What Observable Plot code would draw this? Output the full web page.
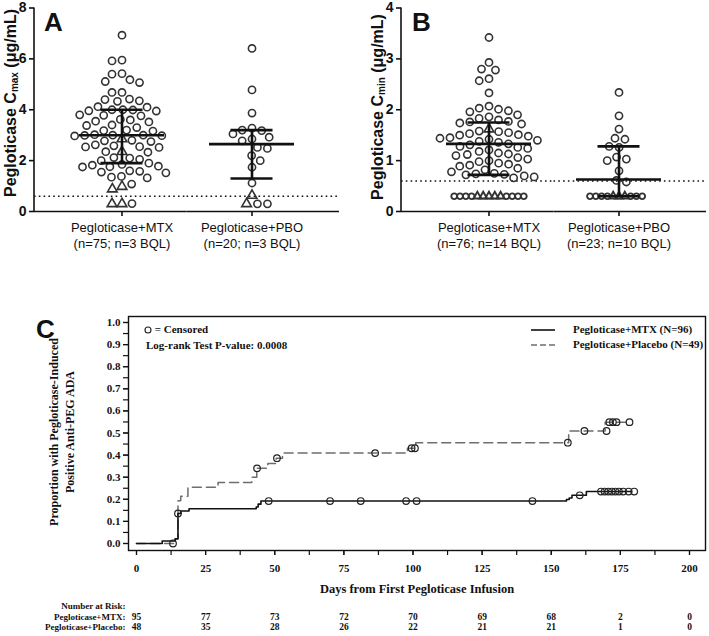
<!DOCTYPE html>
<html><head><meta charset="utf-8">
<script src="https://cdn.jsdelivr.net/npm/d3@7"></script>
<script src="https://cdn.jsdelivr.net/npm/@observablehq/plot@0.6"></script>
<style>
body{margin:0;background:#fff;}
#root{position:relative;width:709px;height:636px;overflow:hidden;background:#fff;}
#root > svg{position:absolute;overflow:visible;}
.abs{position:absolute;white-space:nowrap;color:#111;}
.panel{font-family:"Liberation Sans",Arial,sans-serif;font-weight:bold;font-size:26px;line-height:1;}
.ylab{font-family:"Liberation Sans",Arial,sans-serif;font-weight:bold;font-size:16px;transform:translate(-50%,-50%) rotate(-90deg);}
.ylab sub{font-size:10px;vertical-align:-2px;}
.serif{font-family:"Liberation Serif","Times New Roman",serif;}
.cylab{font-weight:bold;font-size:12px;transform:translate(-50%,-50%) rotate(-90deg);text-align:center;line-height:16px;}
.leg{font-size:11px;font-weight:bold;line-height:1;}
.leg svg{vertical-align:middle;}
</style></head><body><div id="root"></div>
<script>
// ---------- Panels A and B data ----------
const groups = ["Pegloticase+MTX", "Pegloticase+PBO"];
const cmaxLabels = ["Pegloticase+MTX\n(n=75; n=3 BQL)", "Pegloticase+PBO\n(n=20; n=3 BQL)"];
const cminLabels = ["Pegloticase+MTX\n(n=76; n=14 BQL)", "Pegloticase+PBO\n(n=23; n=10 BQL)"];
const cmaxTicks = [0, 2, 4, 6, 8];
const cminTicks = [0, 1, 2, 3, 4];
const lloq = 0.6;
const bqlValue = 0.30;

const cmaxMtxCircles = [6.93, 5.95, 5.92, 5.42, 5.40, 5.18, 5.11, 5.07, 4.68, 4.68, 4.42, 4.40, 4.35, 4.33, 4.12, 4.10,
  4.00, 4.00, 3.99, 3.96, 3.95, 3.80, 3.78, 3.76, 3.62, 3.60, 3.55, 3.52, 3.40, 3.38, 3.30, 3.20, 3.18, 3.16,
  3.02, 3.00, 3.00, 2.99, 2.98, 2.97, 2.80, 2.78, 2.75, 2.62, 2.58, 2.55, 2.54, 2.52, 2.35, 2.33, 2.12, 2.10,
  2.05, 2.00, 1.90, 1.85, 1.82, 1.78, 1.76, 1.75, 1.60, 1.58, 1.55, 1.52, 1.38, 1.35, 1.32, 1.08, 0.31];
const cmaxMtxTriangles = [2.85, 2.35, 0.98, 0.88, 0.30, 0.30];
const cmaxPboCircles = [6.41, 4.78, 3.87, 3.28, 3.20, 3.18, 3.05, 2.92, 2.85, 2.78, 2.52, 2.48, 2.20, 2.00, 1.74, 1.12, 0.30, 0.30];
const cmaxPboTriangles = [0.63, 0.30];
const cmaxMean = [3.00, 2.65];
const cmaxSdLow = [1.90, 1.30];
const cmaxSdHigh = [4.00, 3.20];

const cminMtxCircles = [3.42, 2.93, 2.80, 2.78, 2.61, 2.57, 2.33, 2.07, 2.03, 2.01, 1.98, 1.96, 1.90, 1.86, 1.83,
  1.80, 1.77, 1.76, 1.74, 1.72, 1.58, 1.57, 1.55, 1.53, 1.51, 1.50, 1.48, 1.45, 1.44, 1.42, 1.40, 1.38, 1.36,
  1.33, 1.31, 1.28, 1.26, 1.24, 1.21, 1.18, 1.15, 1.13, 1.12, 1.10, 1.06, 1.03, 1.00, 0.98, 0.95, 0.93, 0.91,
  0.89, 0.85, 0.82, 0.78, 0.75, 0.74, 0.73, 0.72, 0.70, 0.68, 0.66,
  0.30, 0.30, 0.30, 0.30, 0.30, 0.30, 0.30, 0.30];
const cminMtxTriangles = [1.62, 0.30, 0.30, 0.30, 0.30, 0.30];
const cminPboCircles = [2.34, 1.88, 1.62, 1.44, 1.42, 1.28, 1.26, 1.07, 1.03, 1.00, 0.80, 0.61, 0.58,
  0.30, 0.30, 0.30, 0.30, 0.30, 0.30, 0.30];
const cminPboTriangles = [0.30, 0.30, 0.30];
const cminMean = [1.33, 0.63];
const cminSdLow = [0.72, 0.30];
const cminSdHigh = [1.75, 1.28];

// ---------- Panel C data ----------
const kmMtxDays   = [0, 9.3, 14, 15, 16, 19, 43.3, 44, 45, 155.5, 156.5, 157.5, 162.7, 179];
const kmMtxValues = [0, 0.011, 0.021, 0.136, 0.147, 0.157, 0.165, 0.178, 0.192, 0.199, 0.206, 0.218, 0.235, 0.235];
const kmPboDays   = [0, 14, 15, 16, 18.6, 29.5, 41.7, 43.5, 47.5, 50.5, 52.8, 98, 101, 156.3, 169.5, 178.3];
const kmPboValues = [0, 0.021, 0.194, 0.214, 0.254, 0.276, 0.300, 0.340, 0.362, 0.386, 0.409, 0.431, 0.456, 0.509, 0.549, 0.549];
const censMtxDays   = [13.2, 15, 47.8, 70.0, 81.1, 97.5, 101.3, 143.2, 160.3, 168, 169.3, 170.6, 171.9, 173.2, 174.5, 176, 178, 180];
const censMtxValues = [0, 0.136, 0.192, 0.192, 0.192, 0.192, 0.192, 0.192, 0.218, 0.235, 0.235, 0.235, 0.235, 0.235, 0.235, 0.235, 0.235, 0.235];
const censPboDays   = [43.6, 50.8, 86.3, 99.5, 100.7, 156, 162, 170, 171, 172.3, 173.6, 178.3];
const censPboValues = [0.340, 0.386, 0.409, 0.431, 0.431, 0.456, 0.509, 0.509, 0.549, 0.549, 0.549, 0.549];
const riskDays = [0, 25, 50, 75, 100, 125, 150, 175, 200];
const riskMtx = [95, 77, 73, 72, 70, 69, 68, 2, 0];
const riskPbo = [48, 35, 28, 26, 22, 21, 21, 1, 0];
const kmXTicks = [0, 25, 50, 75, 100, 125, 150, 175, 200];
const kmXMinorTicks = [0, 12.5, 25, 37.5, 50, 62.5, 75, 87.5, 100, 112.5, 125, 137.5, 150, 162.5, 175, 187.5, 200];
const kmYTicks = [0, 0.1, 0.2, 0.3, 0.4, 0.5, 0.6, 0.7, 0.8, 0.9, 1.0];
const kmYMinorTicks = [0, 0.05, 0.1, 0.15, 0.2, 0.25, 0.3, 0.35, 0.4, 0.45, 0.5, 0.55, 0.6, 0.65, 0.7, 0.75, 0.8, 0.85, 0.9, 0.95, 1.0];

// ---------- helpers ----------
// triangles first so that the swarm layout keeps them near the group centre, as in the original
function pts(group, circles, triangles) {
  return [...triangles.map(v => ({group, value: v, shape: "triangle"})),
          ...circles.map(v => ({group, value: v, shape: "circle"})).sort((a, b) => d3.descending(a.value, b.value))];
}

const FX_PAD = 0.344;     // band padding of the facet scale (inner and outer)
const OUTER = 45;         // outer padding in px of the facet bands
const HALF_BAND = 43;     // half of the facet band width in px

function dotPanel({points, mean, low, high, labels, ticks, yMax, tightBql}) {
  const stats = groups.map((g, i) => ({group: g, mean: mean[i], lo: low[i], hi: high[i]}));
  const first = [{group: groups[0], base: 0, ref: lloq}];
  const second = [{group: groups[1], base: 0, ref: lloq}];
  const main = tightBql ? points.filter(d => d.value > bqlValue) : points;
  const bql = tightBql ? points.filter(d => d.value <= bqlValue) : [];
  const dotOpts = {fx: "group", y: "value", r: 3.6, symbol: "shape", stroke: "#333", strokeWidth: 1.6, fill: "none"};
  const bqlOpts = {...dotOpts, r: 2.9, strokeWidth: 1.9};
  return Plot.plot({
    width: 350, height: 255,
    marginLeft: 33, marginRight: 10, marginTop: 7.5, marginBottom: 44,
    style: {fontFamily: "'Liberation Sans', Arial, sans-serif", fontSize: "13px", color: "#111", background: "transparent"},
    fx: {domain: groups, paddingInner: FX_PAD, paddingOuter: FX_PAD},
    y: {domain: [0, yMax]},
    marks: [
      Plot.ruleX(first, {fx: "group", x: null, dx: -(OUTER + HALF_BAND), strokeWidth: 1.6}),
      Plot.ruleY(first, {fx: "group", y: "base", insetLeft: -OUTER, insetRight: -OUTER / 2, strokeWidth: 1.6}),
      Plot.ruleY(second, {fx: "group", y: "base", insetLeft: -OUTER / 2, insetRight: -OUTER, strokeWidth: 1.6}),
      Plot.ruleY(first, {fx: "group", y: "ref", insetLeft: -OUTER, insetRight: -OUTER / 2, strokeWidth: 1.6, strokeDasharray: "1.6,3.2"}),
      Plot.ruleY(second, {fx: "group", y: "ref", insetLeft: -OUTER / 2, insetRight: -OUTER, strokeWidth: 1.6, strokeDasharray: "1.6,3.2"}),
      Plot.axisY({ticks, tickFormat: d => d, dx: -OUTER, tickSize: 5, tickPadding: 3, fontSize: 14, fontWeight: "bold", strokeWidth: 1.6, label: null}),
      Plot.axisFx({anchor: "bottom", tickSize: 5, strokeWidth: 1.6, tickPadding: 3, label: null, lineHeight: 1.3, fontSize: 13,
        tickFormat: d => labels[groups.indexOf(d)]}),
      Plot.dot(main, Plot.dodgeX({anchor: "middle", padding: 2.8}, dotOpts)),
      Plot.dot(bql, Plot.dodgeX({anchor: "middle", padding: 0}, bqlOpts)),
      Plot.tickY(stats, {fx: "group", y: "mean", strokeWidth: 2.6, stroke: "#111"}),
      Plot.tickY(stats, {fx: "group", y: "hi", insetLeft: 21.5, insetRight: 21.5, strokeWidth: 2.6, stroke: "#111"}),
      Plot.tickY(stats, {fx: "group", y: "lo", insetLeft: 21.5, insetRight: 21.5, strokeWidth: 2.6, stroke: "#111"}),
      Plot.ruleX(stats, {fx: "group", x: null, y1: "lo", y2: "hi", strokeWidth: 2.6, stroke: "#111"})
    ]
  });
}

const root = document.getElementById("root");
function place(el, left, top) { root.appendChild(el); el.style.left = left + "px"; el.style.top = top + "px"; return el; }
function html(cls, content, left, top) { const d = document.createElement("div"); d.className = "abs " + cls; d.innerHTML = content; return place(d, left, top); }

// Panel A
place(dotPanel({
  points: [...pts(groups[0], cmaxMtxCircles, cmaxMtxTriangles), ...pts(groups[1], cmaxPboCircles, cmaxPboTriangles)],
  mean: cmaxMean, low: cmaxSdLow, high: cmaxSdHigh, labels: cmaxLabels, ticks: cmaxTicks, yMax: 8, tightBql: false
}), 0, 0);
// Panel B
place(dotPanel({
  points: [...pts(groups[0], cminMtxCircles, cminMtxTriangles), ...pts(groups[1], cminPboCircles, cminPboTriangles)],
  mean: cminMean, low: cminSdLow, high: cminSdHigh, labels: cminLabels, ticks: cminTicks, yMax: 4, tightBql: true
}), 367, 0);

html("panel", "A", 44, 9);
html("panel", "B", 412, 9);
html("ylab", "Pegloticase C<sub>max</sub> (μg/mL)", 11, 103);
html("ylab", "Pegloticase C<sub>min</sub> (μg/mL)", 378, 107);

// Panel C
const kmMtx = kmMtxDays.map((d, i) => ({day: d, value: kmMtxValues[i]}));
const kmPbo = kmPboDays.map((d, i) => ({day: d, value: kmPboValues[i]}));
const censMtx = censMtxDays.map((d, i) => ({day: d, value: censMtxValues[i]}));
const censPbo = censPboDays.map((d, i) => ({day: d, value: censPboValues[i]}));
const riskRows = riskDays.map((d, i) => ({day: d, mtx: riskMtx[i], pbo: riskPbo[i]}));

const chartC = Plot.plot({
  width: 709, height: 341,
  marginLeft: 128, marginRight: 4, marginTop: 21, marginBottom: 86,
  style: {fontFamily: "'Liberation Serif', 'Times New Roman', serif", fontSize: "11px", fontWeight: "bold", color: "#111", background: "transparent"},
  x: {domain: [0, 200], insetLeft: 8, insetRight: 16},
  y: {domain: [0, 1], insetTop: 6, insetBottom: 7},
  marks: [
    Plot.frame({strokeWidth: 1.4}),
    Plot.axisY({ticks: kmYMinorTicks, tickFormat: () => "", tickSize: 5, strokeWidth: 1.2, label: null}),
    Plot.axisY({ticks: kmYTicks, tickFormat: d3.format(".1f"), tickSize: 5, tickPadding: 3, strokeWidth: 1.2, label: null}),
    Plot.axisX({ticks: kmXMinorTicks, tickFormat: () => "", tickSize: 5, strokeWidth: 1.2, label: null}),
    Plot.axisX({ticks: kmXTicks, tickFormat: d => d, tickSize: 5, tickPadding: 9, strokeWidth: 1.2, label: null}),
    Plot.line(kmPbo, {x: "day", y: "value", curve: "step-after", stroke: "#6e6e6e", strokeWidth: 1.5, strokeDasharray: "9,5"}),
    Plot.line(kmMtx, {x: "day", y: "value", curve: "step-after", stroke: "#111", strokeWidth: 1.6}),
    Plot.dot(censPbo, {x: "day", y: "value", r: 3.3, stroke: "#222", strokeWidth: 1.2}),
    Plot.dot(censMtx, {x: "day", y: "value", r: 3.3, stroke: "#222", strokeWidth: 1.2}),
    Plot.text(["Days from First Pegloticase Infusion"], {frameAnchor: "bottom", dy: 42, fontSize: 12.5}),
    Plot.text(["Number at Risk:"], {frameAnchor: "bottom-left", dx: -3, dy: 58, textAnchor: "end", fontSize: 9}),
    Plot.text(["Pegloticase+MTX:"], {frameAnchor: "bottom-left", dx: -3, dy: 69, textAnchor: "end", fontSize: 9}),
    Plot.text(["Pegloticase+Placebo:"], {frameAnchor: "bottom-left", dx: -3, dy: 79, textAnchor: "end", fontSize: 9}),
    Plot.text(riskRows, {x: "day", text: "mtx", frameAnchor: "bottom", dy: 69, fontSize: 9.5}),
    Plot.text(riskRows, {x: "day", text: "pbo", frameAnchor: "bottom", dy: 79, fontSize: 9.5})
  ]
});
place(chartC, 0, 295);

html("panel", "C", 36, 316);
html("serif cylab", "Proportion with Pegloticase-Induced<br>Positive Anti-PEG ADA", 62, 432);
html("serif leg", '<svg width="8" height="8"><circle cx="4" cy="4" r="3" fill="none" stroke="#222" stroke-width="1.1"/></svg> = Censored', 144, 324);
html("serif leg", "Log-rank Test P-value: 0.0008", 146, 340);
html("serif leg", '<svg width="24" height="6" style="margin-right:18px"><line x1="0" x2="24" y1="3" y2="3" stroke="#111" stroke-width="1.6"/></svg>Pegloticase+MTX (N=96)', 531, 324);
html("serif leg", '<svg width="24" height="6" style="margin-right:18px"><line x1="0" x2="24" y1="3" y2="3" stroke="#6e6e6e" stroke-width="1.5" stroke-dasharray="6,3"/></svg>Pegloticase+Placebo (N=49)', 531, 339);
</script></body></html>
